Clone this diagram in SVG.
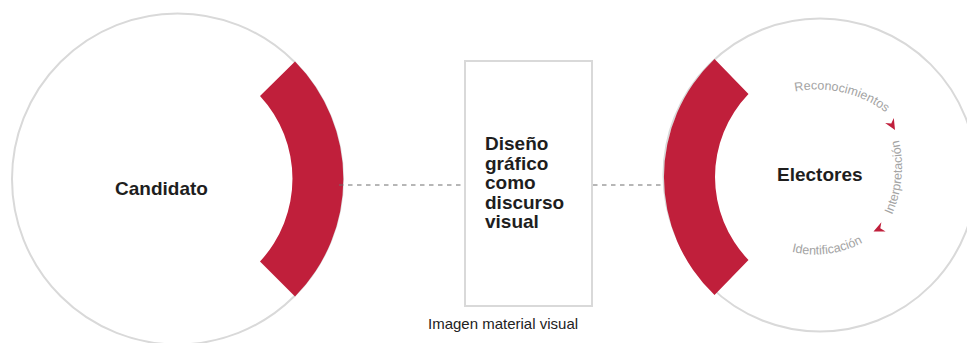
<svg xmlns="http://www.w3.org/2000/svg" width="967" height="343" viewBox="0 0 967 343">
<defs>
<style>
.ring{fill:none;stroke:#d9d9d9;stroke-width:2}
.box{fill:#ffffff;stroke:#d9d9d9;stroke-width:2}
.band{fill:#c01f3b}
.title{font-family:"Liberation Sans",Arial,sans-serif;font-weight:bold;font-size:19px;fill:#1e1e1e}
.lbl{font-family:"Liberation Sans",Arial,sans-serif;font-size:12.5px;fill:#a3a3a3}
.cap{font-family:"Liberation Sans",Arial,sans-serif;font-size:15px;fill:#222222}
.dash{stroke:#6e6e6e;stroke-width:1;stroke-dasharray:4.5 4.5;fill:none}
.ah{fill:#c01f3b}
</style>
<path id="arrowhead" d="M0,0 L-11,-5 L-7.5,0 L-11,5 Z"/>
<path id="pRec" d="M795.1,91.6 A114.8,114.8 0 0,1 890.8,116.4"/>
<path id="pInt" d="M892,215 A120,120 0 0,0 894.8,126"/>
<path id="pIde" d="M791.7,251.8 A101.8,101.8 0 0,0 873.4,236.1"/>
</defs>
<rect width="967" height="343" fill="#ffffff"/>
<g id="candidato">
<circle class="ring" cx="177.5" cy="179" r="165.5"/>
<path class="band" d="M295,61.5 A167,167 0 0,1 295,296.5 L260,261.5 A121.7,121.7 0 0,0 260,96 Z"/>
<text class="title" x="115" y="195">Candidato</text>
</g>
<g id="diseno">
<rect class="box" x="465" y="61" width="127" height="245"/>
<text class="title" x="485" y="150"><tspan x="485" y="150">Diseño</tspan><tspan x="485" y="169.5">gráfico</tspan><tspan x="485" y="189">como</tspan><tspan x="485" y="208.5">discurso</tspan><tspan x="485" y="228">visual</tspan></text>
<text class="cap" x="428" y="329">Imagen material visual</text>
</g>
<g id="electores">
<circle class="ring" cx="820" cy="175" r="156.5"/>
<path class="band" d="M714.5,59 A163,163 0 0,0 714.5,295 L748.5,260 A119.6,119.6 0 0,1 748.5,94 Z"/>
<text class="title" x="777" y="181">Electores</text>
<text class="lbl"><textPath href="#pRec">Reconocimientos</textPath></text>
<text class="lbl"><textPath href="#pInt">Interpretación</textPath></text>
<text class="lbl"><textPath href="#pIde">Identificación</textPath></text>
<use href="#arrowhead" class="ah" transform="translate(895,130) rotate(60)"/>
<use href="#arrowhead" class="ah" transform="translate(873.5,231.5) rotate(155)"/>
</g>
<g id="connectors">
<line class="dash" x1="339" y1="185" x2="465" y2="185"/>
<line class="dash" x1="593" y1="185" x2="664" y2="185"/>
</g>
</svg>
